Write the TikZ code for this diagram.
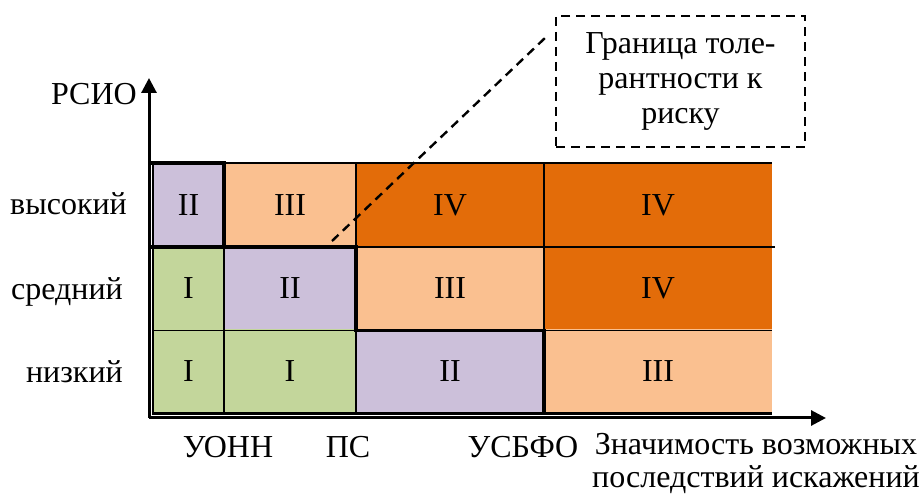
\documentclass[tikz,border=0pt]{standalone}
\usepackage{fontspec}
\setmainfont{Liberation Serif}
\usetikzlibrary{arrows.meta}
\definecolor{lav}{HTML}{CCC0DA}
\definecolor{peach}{HTML}{FAC090}
\definecolor{dorange}{HTML}{E36C09}
\definecolor{lgreen}{HTML}{C3D69B}
\tikzset{
  txt/.style={font=\fontsize{32}{33}\selectfont, inner sep=0pt},
  cell/.style={txt, draw=none, outer sep=0pt, minimum height=84pt},
  colA/.style={cell, minimum width=71pt},
  colB/.style={cell, minimum width=132pt},
  colC/.style={cell, minimum width=188pt},
  colD/.style={cell, minimum width=228pt},
  grid/.style={line width=1.4pt},
  border/.style={line width=3.2pt, line cap=rect},
  axis/.style={line width=3pt, -{Triangle[length=15pt,width=15pt]}},
  tolline/.style={line width=2.4pt, dash pattern=on 9pt off 6pt},
}
\begin{document}
\begin{tikzpicture}[x=1pt,y=-1pt]
\useasboundingbox (0,0) rectangle (922,494);

% risk matrix cells: rows top to bottom, columns left to right
\node[colA, fill=lav]     (a1) at (188.5,205) {II};
\node[colB, fill=peach]   (b1) at (290,205)   {III};
\node[colC, fill=dorange] (c1) at (450,205)   {IV};
\node[colD, fill=dorange] (d1) at (658,205)   {IV};
\node[colA, fill=lgreen]  (a2) at (188.5,288.5) {I};
\node[colB, fill=lav]     (b2) at (290,288.5) {II};
\node[colC, fill=peach]   (c2) at (450,288.5) {III};
\node[colD, fill=dorange] (d2) at (658,288.5) {IV};
\node[colA, fill=lgreen]  (a3) at (188.5,371.5) {I};
\node[colB, fill=lgreen]  (b3) at (290,371.5)   {I};
\node[colC, fill=lav]     (c3) at (450,371.5)   {II};
\node[colD, fill=peach]   (d3) at (658,371.5)   {III};

% thin cell borders
\draw[grid] (a1.north west) -- (d1.north east);
\draw[grid] (a1.south west) -- ([xshift=3pt]d1.south east);
\draw[grid] (a2.south west) -- (d2.south east);
\draw[grid] (a1.north east) -- (a3.south east);
\draw[grid] (b1.north east) -- (b3.south east);
\draw[grid] (c1.north east) -- (c3.south east);

% frame of the matrix
\draw[line width=2.2pt] (a1.north west) -- (a3.south west) -- (d3.south east);

% tolerance boundary (staircase)
\draw[border] (a1.north west) -- (a1.north east) -- (a1.south east) -- (b1.south east)
  -- (b2.south east) -- (c2.south east) -- (c3.south east);
\draw[border] (a1.south west) -- (a1.south east);

% axes
\coordinate (o) at (149,418);
\coordinate (ytip) at (149,78);
\coordinate (xtip) at (826,418);
\draw[axis] (o) -- (ytip);
\draw[axis] (o) -- (xtip);

% axis labels
\node[txt, anchor=base east] (yl) at (137,105) {РСИО};
\node[txt, anchor=base east] (r1) at (127,215) {высокий};
\node[txt, anchor=base east] (r2) at (123,300) {средний};
\node[txt, anchor=base east] (r3) at (123,383) {низкий};
\node[txt, anchor=base] (x1) at (228,457) {УОНН};
\node[txt, anchor=base] (x2) at (348,457) {ПС};
\node[txt, anchor=base] (x3) at (523,457) {УСБФО};
\node[txt, anchor=base, align=center] (xl) at (756,488)
      {Значимость возможных\\последствий искажений};

% tolerance note
\node[txt, font=\fontsize{32}{35}\selectfont, draw, line width=2.4pt,
      dash pattern=on 9pt off 6pt, align=center,
      minimum width=249pt, minimum height=131pt] (box) at (680.5,81.5)
      {Граница толе-\\рантности к\\риску};
\coordinate (tolstart) at (332,241);
\coordinate (tolend) at (545,38);
\draw[tolline] (tolstart) -- (tolend);
\end{tikzpicture}
\end{document}
